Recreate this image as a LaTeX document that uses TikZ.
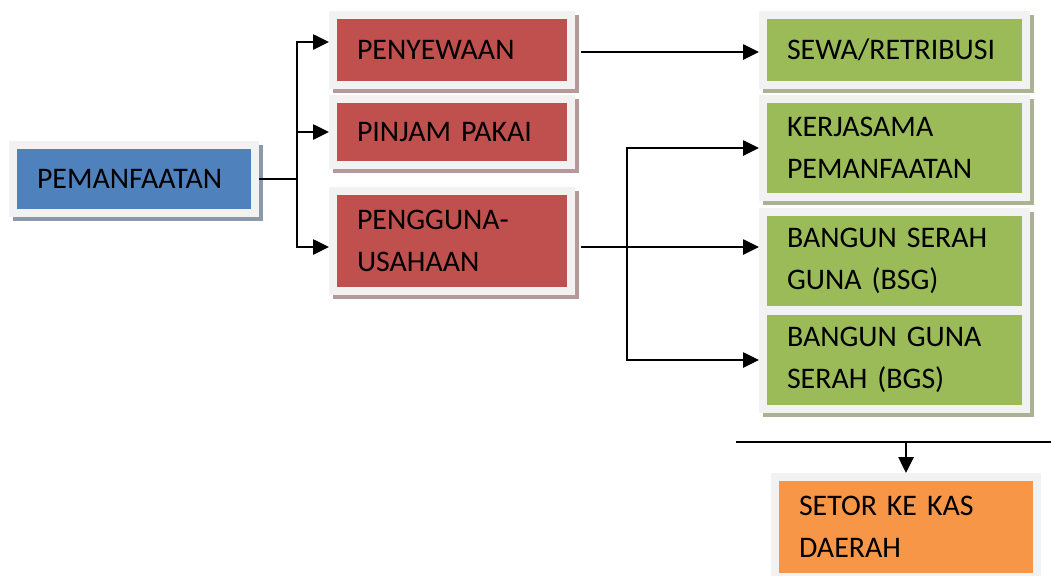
\documentclass[tikz,border=0pt]{standalone}
\usepackage{fontspec}
\setmainfont[WordSpace=0.6]{Carlito}
\usetikzlibrary{arrows.meta}
\definecolor{framegray}{HTML}{F2F2F2}
\definecolor{blueA}{HTML}{4F81BD}
\definecolor{redA}{HTML}{C0504D}
\definecolor{greenA}{HTML}{9BBB59}
\definecolor{orangeA}{HTML}{F79646}
\tikzset{
  box/.style={rectangle, align=left, inner xsep=0.4cm, inner ysep=0pt, outer sep=0.16cm,
    font=\fontsize{17pt}{24pt}\selectfont},
  framed/.style={preaction={draw=#1, line width=0.32cm, transform canvas={shift={(0.08cm,-0.08cm)}}},
    preaction={draw=framegray, line width=0.32cm}},
  bluebox/.style={box, fill=blueA, framed=blueA!35!gray!80, text width=3.88cm, minimum height=1.2cm},
  redbox/.style={box, fill=redA, framed=redA!35!gray!70, text width=3.8cm},
  greenbox/.style={box, fill=greenA, framed=greenA!45!gray!75, text width=4.3cm},
  orangebox/.style={box, fill=orangeA, preaction={draw=framegray, line width=0.32cm}, text width=4.28cm},
  arr/.style={-{Triangle[length=0.32cm,width=0.3cm]}},
  link/.style={line width=0.05cm}
}
\begin{document}
\begin{tikzpicture}[x=0.02cm, y=-0.02cm]
\useasboundingbox (0,0) rectangle (1051,575);
% boxes
\node[bluebox] (pemanfaatan) at (134,179) {PEMANFAATAN};
\node[redbox, minimum height=1.24cm] (penyewaan) at (452,50) {PENYEWAAN};
\node[redbox, minimum height=1.16cm] (pinjam) at (452,132) {PINJAM PAKAI};
\node[redbox, minimum height=1.84cm] (pengguna) at (452,241) {PENGGUNA-\\USAHAAN};
\node[greenbox, minimum height=1.24cm] (sewa) at (894.5,50) {SEWA/RETRIBUSI};
\node[greenbox, minimum height=1.8cm] (kerjasama) at (894.5,148) {KERJASAMA\\PEMANFAATAN};
\node[greenbox, minimum height=1.8cm] (bsg) at (894.5,261) {BANGUN SERAH\\GUNA (BSG)};
\node[greenbox, minimum height=1.8cm] (bgs) at (894.5,360) {BANGUN GUNA\\SERAH (BGS)};
\node[orangebox, minimum height=1.84cm] (setor) at (906,527) {SETOR KE KAS\\DAERAH};

% connectors
\coordinate (split1) at (297,179);
\coordinate (split2) at (627,247);
\coordinate (busL) at (736,442);
\coordinate (busR) at (1051,442);
\draw[link] (pemanfaatan) -- (split1);
\draw[link, arr] (split1) |- ([yshift=0.16cm]penyewaan.west);
\draw[link, arr] (split1) |- (pinjam.west);
\draw[link, arr] (split1) |- ([yshift=-0.12cm]pengguna.west);
\draw[link, arr] ([xshift=0.12cm,yshift=-0.04cm]penyewaan.east) -- ([yshift=-0.04cm]sewa.west);
\draw[link] ([xshift=0.12cm]pengguna.east |- split2) -- (split2);
\draw[link, arr] (split2) -- (bsg.west |- split2);
\draw[link, arr] (split2) |- (kerjasama.west);
\draw[link, arr] (split2) |- (bgs.west);
\draw[link] (busL) -- (busR);
\draw[link, arr] (setor.north |- busL) -- (setor.north);
\end{tikzpicture}
\end{document}
